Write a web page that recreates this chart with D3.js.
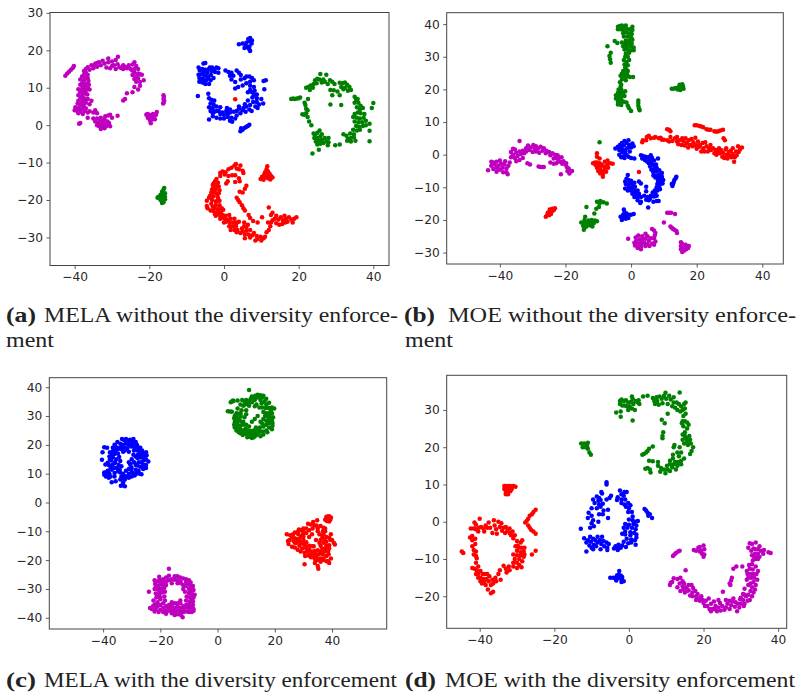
<!DOCTYPE html>
<html>
<head>
<meta charset="utf-8">
<script src="https://cdn.jsdelivr.net/npm/d3@7"></script>
<style>
  html, body { margin: 0; padding: 0; background: #fff; }
  .tick text { font-family: "DejaVu Sans", sans-serif; font-size: 12.2px; fill: #262626; }
  .caption { font-family: "Liberation Serif", serif; font-size: 20px; fill: #222; }
  .caption-tag { font-family: "Liberation Serif", serif; font-size: 20px; font-weight: bold; fill: #222; }
</style>
</head>
<body>
<svg id="chart" width="797" height="693"></svg>
<script>
// --- panel (a) MELA without diversity
const aMagenta = [[-42.5,13.2],[-42,13.8],[-41.5,14.3],[-41,14.8],[-40.5,15.3],[-40.2,15.8],[-37,15],[-36.5,15.5],[-36,14.8],[-35.5,16],[-35,15.2],[-34.5,16.4],[-34,15.6],[-33.5,16.8],[-33,16],[-32.5,17.2],[-32,16.5],[-31.5,15.4],[-31,16.8],[-31,17.8],[-30.5,15.2],[-30,17],[-29.5,16],[-29,17.4],[-29,15],[-28.5,16.3],[-28.4,18.3],[-28,15.5],[-27.5,15.3],[-27,15],[-26.5,15.6],[-26,15.2],[-25.5,16],[-25,15],[-24.5,16.2],[-24,16.8],[-24,15],[-23.5,15.8],[-23,15],[-24,14],[-24.5,13.4],[-23.5,13],[-23,13.8],[-22.5,13.6],[-22,13.5],[-23,12.5],[-22.5,11.5],[-21.5,12],[-23.5,11.6],[-24,12.3],[-22.5,10.5],[-24,10.2],[-23,9.5],[-24.5,8.8],[-26,8.5],[-26.5,7],[-27,6.6],[-37.5,14.5],[-37,14],[-36.5,13.5],[-37.5,13.5],[-38,13],[-36.5,12.5],[-37,12.8],[-38.5,12.2],[-37.5,12],[-36.3,11.8],[-38,11.2],[-37,11],[-36.2,10.8],[-38.5,10.8],[-37.5,10.2],[-36.5,10],[-38,9.5],[-39,9.6],[-37,9.3],[-36,9.5],[-38.5,8.8],[-37,8.4],[-39,8],[-38,7.8],[-37.5,7.2],[-38.5,7],[-36.5,7],[-39,6.5],[-38,6.2],[-35.5,6.5],[-37,6],[-39.2,5.8],[-38.5,5.4],[-37.6,5.2],[-36,5.6],[-39.8,4.8],[-39,4.5],[-38,4.4],[-37,4.5],[-40,4],[-39.3,3.8],[-38.4,3.6],[-37.3,3.8],[-36,3.7],[-35,3.4],[-39,3.2],[-37.8,3],[-36.5,3.4],[-34.5,4],[-34,3.2],[-36.5,2],[-35,1.8],[-38.5,0.6],[-38.8,0.4],[-34.5,1],[-34,1.8],[-33.8,0.6],[-33.5,-0.2],[-33.2,1.2],[-33,2],[-33,-1],[-32.8,0.2],[-32.5,1],[-32.4,-0.5],[-32,1.6],[-32,0.4],[-31.8,2.4],[-31.5,-0.2],[-31.2,1],[-31,2.6],[-30.8,0.6],[-30.5,2.8],[-30,2],[-30.5,-0.3],[-28.5,2.5],[-20.8,2.8],[-20.5,3],[-20.4,2],[-20,2.8],[-20,1.8],[-19.8,1.2],[-19.6,0.5],[-19.4,2.5],[-19.2,1.5],[-19,3],[-18.8,2.2],[-18.5,1.6],[-18.2,2.8],[-18,3.5],[-16.2,8],[-16.1,7.5],[-16.2,7],[-16,6.5],[-16.2,6],[-16.3,5.8],[-38,10.4],[-37.6,8.6],[-36.6,8.2],[-37.4,6.6],[-35,15.8],[-34,16.6],[-30,15.8],[-27,16],[-24.6,14.6],[-33,0],[-32,-0.8],[-34,0],[-31,0.2]];
const aBlue = [[6,22],[5,21.8],[4,21.6],[5.8,21.2],[6.5,23],[7,23.3],[6.8,22.5],[7.5,22.6],[7.4,21.8],[6.8,21],[6.2,20.8],[6.8,20.2],[7,19.8],[5.5,20.6],[-5.5,16.5],[-5,16.6],[-6.8,15.4],[-6.5,14.6],[-5.8,15],[-5,14.8],[-4.5,14],[-3.8,15.4],[-3.2,15.4],[-2.6,15],[-2,15.4],[-1.5,15.2],[-3.4,14.5],[-2.4,14.2],[-6.8,13.5],[-6,13.6],[-5.2,13.2],[-4.4,13],[-3.5,13.4],[-6.6,12.6],[-5.8,12.4],[-4.8,12],[-3.6,12],[-2.8,12.6],[-6.6,11.6],[-5.8,11.4],[-5,11],[-4,11],[-1.5,14],[0.4,14.6],[1.2,14.2],[1.6,13.2],[2,14],[2.5,13.2],[3.4,14.6],[4,14],[4.5,13.4],[2,12.2],[3,11.5],[4.5,12.2],[5.5,12.5],[6,13],[6.8,13],[7.5,12.6],[8,12],[7,11.6],[6,11.2],[5,10.6],[3.8,10.2],[3,9.8],[7,10.5],[8,10.2],[8.2,9.2],[7.5,8.8],[6.4,8.8],[8.8,8.2],[10.6,11.8],[11.2,12],[10.8,9.6],[-7,7.8],[-4.2,8.4],[-4,7.2],[-3.4,6.8],[-2.6,6.6],[-2.8,5.6],[-3.6,5.8],[-4,4.8],[-3,4.6],[-2,5],[-1,4.8],[0.8,4.6],[1.6,4.2],[-3.6,3.8],[-2.6,3.6],[-1.4,3.8],[-0.4,3.4],[0.6,3.8],[1.6,3.4],[2.6,3.6],[3.4,3.8],[-3,2.4],[-2,2],[-1,1.8],[0,1.8],[1,2.2],[2,2],[3,1.8],[-4,1.5],[1.6,1.2],[2.2,0.9],[3.4,2.6],[4.4,3.2],[5,4],[4,4.4],[5.2,4.6],[6,5],[6.8,4.2],[5.8,3.6],[7,5.4],[7.8,6.2],[8.4,5],[8.8,6.2],[9.4,5.5],[10,7],[8.8,7.2],[10.5,5.8],[7.4,3.8],[4.6,-0.8],[5,-1.2],[5.6,-0.7],[6,-0.4],[6.4,-0.2],[4.4,-1.6],[6.8,0.1],[7,9.4],[8,8],[7.6,7.4],[9,4.6],[6.4,6.6],[5.6,5.6],[4,5],[1,3],[0,2.8],[-1,3],[-2,3.8],[-3,3.2],[-5.6,14],[-4.4,14.8],[-5.4,12],[-4.2,12.6]];
const aGreen = [[18,7],[18.5,7.1],[19,7],[19.5,7.1],[20,7.2],[20.4,7.4],[21,2.9],[21.5,2.8],[22,3.2],[22.4,2.2],[22,4.4],[21.8,5.4],[21.6,6],[22.4,4],[22.5,7],[23,9.4],[22.8,1],[23.4,0],[22,10],[22.6,10.2],[23.2,10.6],[23.8,10],[24,11],[24.4,12],[24.8,11.2],[25,12.4],[25.6,12.2],[25.8,13.7],[26.2,11.4],[26.6,12.2],[27,11.6],[27.4,13.5],[27.8,11],[28.4,12],[29,11.6],[29.6,11],[31,11.3],[31.8,11.2],[32.4,11.4],[31.4,10.2],[32.4,10],[33,10.8],[33.6,10.2],[32,9.6],[33.2,9.2],[34,9.4],[28.5,9.4],[29.4,9.3],[30.4,9],[31,8],[29,8],[35,7.6],[35.4,6.8],[35.8,7],[35,6],[36,6],[36.6,5.2],[35.6,4.8],[36.4,4.2],[37.2,4.6],[35,3],[35.8,3.4],[36.6,3.2],[37.6,3],[34.6,2.2],[35.6,2],[36.4,1.8],[37.4,2],[35,1],[36,0.8],[37,0.8],[38,1.2],[39,0.4],[35.4,-0.2],[36.2,-0.4],[37.2,-0.2],[38,0],[34.6,-1.2],[35.6,-1.4],[36.4,-1.2],[39,-1.5],[33.8,-2.2],[34.8,-2.4],[32,-2.4],[32.8,-2.8],[33.2,-3.6],[34,-3.4],[34.8,-3.2],[35.2,-4.2],[33,-4.2],[34,-4.4],[39,-4.3],[40,5.9],[39.6,4.6],[28.5,5.5],[31.4,5.4],[24,-2.2],[24.4,-2.8],[25,-2],[25.6,-1.4],[24.2,-3.4],[25,-3.4],[25.8,-3],[26.2,-2.4],[24.6,-4.4],[25.4,-4.2],[26.2,-4],[25,-5.2],[25.8,-5],[26.6,-4.8],[27.4,-4.4],[27,-3.4],[28,-3.4],[28,-4.6],[27.8,-5.4],[25.4,-6.6],[23.7,-7.6],[29.8,-5.4],[31,-5.2],[-16.6,-17.8],[-16.2,-17.2],[-16,-16.8],[-17,-18.6],[-16.4,-18.6],[-15.8,-18.2],[-17.6,-19.2],[-17,-19.4],[-16.4,-19.4],[-15.8,-19.2],[-17.8,-19.4],[-17,-20],[-16.4,-20.2],[-15.8,-19.8],[-16.6,-20.8],[-16.2,-20.6]];
const aRed = [[3,6.9],[3.2,-10.4],[2.8,-10.8],[4.4,-10.8],[2,-11.4],[3.4,-11.6],[1.2,-11.8],[4,-11.8],[0.4,-12.6],[-0.4,-12.4],[-1,-12.8],[0.2,-13.2],[1.2,-13.6],[5,-12.2],[5.2,-12.8],[2.2,-13.4],[3,-13.4],[4,-14.2],[4.2,-15],[3,-15.2],[1,-15],[0.6,-15.6],[-2,-14.4],[-2.4,-15],[-1.6,-15.4],[-2.8,-15.6],[-2,-16],[-1.4,-16.4],[-2.8,-16.6],[-3.2,-17.2],[-2.2,-17],[-1.2,-17.4],[-3.4,-18],[-2.4,-18],[-1.4,-18.2],[-3.6,-18.8],[-2.8,-19],[-4,-19.4],[-1.6,-19.4],[-4.6,-20.2],[-3.2,-20],[-2.2,-20.4],[-1.2,-20.2],[-3.4,-21],[-2.2,-21.4],[-1.2,-21.4],[-4.6,-21.6],[-4.4,-22.2],[-2.6,-22.2],[-1.6,-22.4],[-0.6,-22.2],[-2.8,-23],[-1.8,-23.2],[-0.8,-23.2],[-2.4,-23.8],[-1.2,-24],[-0.4,-24],[0.4,-24.2],[-0.8,-24.8],[0.2,-25],[1,-25.2],[1.8,-25],[0.6,-25.8],[1.6,-26],[2.6,-26],[3.4,-26],[4,-25.8],[1.4,-27],[2.2,-27],[3.2,-27],[1.8,-28],[2.8,-28],[3.6,-28],[3.4,-28.6],[4.8,-27.6],[5.4,-27],[6,-27.2],[5,-28.4],[6,-28.2],[7,-28],[5.6,-29.2],[6.6,-29.2],[5.6,-30.2],[7,-30],[7.6,-29.4],[8,-28.8],[8.8,-29.6],[9,-30.4],[9.8,-29.8],[10,-30.8],[10.6,-30.2],[11,-29.8],[11.4,-28.6],[12,-28],[12.4,-27],[12.6,-26],[13,-25.4],[13.6,-25],[14,-26.2],[14.6,-25.2],[14.8,-26.6],[15.2,-24.6],[15.8,-25.4],[15.6,-26.4],[16.2,-24.2],[16.6,-25],[17,-25.8],[17.4,-24.6],[18,-25.2],[18.4,-26],[18.8,-25],[19.4,-24.6],[12.6,-24],[13,-23.4],[12,-22],[10.2,-24.6],[9,-26],[7.8,-25.6],[7,-24.8],[6.6,-24],[5.6,-22.8],[5.2,-22.2],[4.8,-21.4],[4.2,-20.6],[3.8,-20],[3.4,-19.4],[5,-18],[5.6,-17],[6,-16.2],[4.2,-17.8],[11.6,-11],[11.4,-11.8],[11.8,-12.4],[11,-12.6],[12.2,-13],[10.8,-13.2],[11.5,-13.4],[12.6,-13.6],[10.2,-13.8],[11,-14],[11.8,-14.2],[13,-14],[9.8,-14.4],[10.6,-14.6],[12.4,-14.5],[-3,-16],[-2.6,-17.8],[-1.8,-18.6],[-3.8,-19],[-2,-20.4],[-3,-21.8],[-3.6,-22.8],[-2.2,-24.2],[-1,-25],[0,-26],[-0.2,-22.6],[-1.6,-20],[1.4,-24],[2.8,-25],[3.2,-26.6],[4.4,-28.8],[6.4,-26.6],[5.4,-26],[8.4,-30.8],[11.8,-26],[14,-24.2],[16.4,-26],[-1,-13.6]];

// --- panel (b) MOE without diversity
const bGreen = [[-4,39.2],[-3.4,39.4],[-2.8,39.6],[-2.2,39.2],[-1.6,39.6],[0.4,39.2],[-4,38.4],[-3.2,38.4],[-2.4,38.2],[-1.4,38.6],[-0.4,38.4],[0.4,38.2],[-2.4,37.2],[-1.4,37.4],[-0.4,37.2],[0.2,37],[-2.2,36.2],[-1,36.2],[0,36],[-1.6,35],[-0.6,35],[0.4,35.2],[-5,34.8],[-4.2,34.2],[-2.8,34.4],[-1.8,34],[-0.8,34],[0.2,34],[-7.2,33.2],[-2.4,33.2],[-1.4,33],[-0.2,33.2],[0.8,32.8],[-2,32.2],[-1,32.2],[0,32],[0.8,32],[-6.2,31.2],[-1.6,31],[-0.6,31.2],[-6.6,30.2],[-1.8,30],[-1,30],[-0.6,29],[-6.4,29.2],[-6.2,28.2],[-2.2,29],[-1.4,28.4],[-2,27.6],[-1,27.4],[-1.8,26.6],[-1.4,26],[-2.4,25.6],[-1,25.6],[-2.8,24.8],[-2,25],[-1.2,24.6],[-3.2,24.2],[-2.4,24],[-1.6,23.8],[-0.4,23.8],[0.6,23.8],[-2.8,23],[-1.6,22.8],[-3.4,22.2],[-3,21.4],[-3.2,20.8],[-3.8,20],[-3,20],[-1.8,19.4],[-4,19],[-3.2,19],[-2.4,19],[-4.6,18.2],[-3.8,18],[-3,18],[-2,18],[-4.6,17.2],[-3.8,17],[-3,17],[-4,16.2],[-3.2,16.2],[-2.2,16.2],[-1.4,16],[-4,15.4],[-3,15.2],[-1,15],[-0.6,14.2],[0,13.4],[2.2,16.6],[2.2,15.8],[2.2,15],[2.4,14.2],[2.6,13.6],[12.4,20.2],[13,20.2],[13.6,20.4],[14.2,20],[14.6,20.8],[15.2,20.4],[15.8,21],[14.8,21.4],[15.6,21.6],[15,19.8],[16,20.2],[-9.6,3.8],[-7.4,-15],[-8.4,-14.6],[-9.4,-14.2],[-10.4,-14.4],[-9.6,-15],[-9.8,-16],[-10.6,-16.6],[-13.6,-16],[-11.2,-18],[-14,-19],[-14.2,-20],[-13,-20.2],[-12,-20],[-11,-20.2],[-10.4,-20.4],[-15.2,-20.8],[-14.4,-21],[-13.4,-21],[-12.4,-21],[-11.4,-21],[-14.6,-21.8],[-13.6,-22],[-12.6,-21.6],[-14.2,-22.4],[-14.4,-23],[-11.8,-22]];
const bRed = [[3.4,3.8],[3.6,4.4],[4.6,4.4],[4.8,5.4],[5.4,5.8],[6,5],[7,5.2],[7.4,5.4],[8.4,5],[9,5.2],[9.4,4.6],[10,4.6],[11,4.4],[11.6,4],[12,5.4],[12.6,4.2],[13.4,5],[14,5.4],[14,4],[14.4,3.2],[14.8,4.4],[15.4,3],[15.6,5],[16,4],[16.4,2.8],[16.6,5],[17,3.6],[17.4,2.2],[17.6,4.4],[18,3],[18.4,4.8],[18.8,2.6],[19,3.8],[19.6,5.2],[19.8,3],[20,1.8],[20.4,4],[20.8,2.4],[21,3],[21.4,1],[21.8,3.6],[22,2],[22.4,1],[22.6,3.8],[23,2.6],[23.4,1],[23.8,2],[24.2,3],[24.4,1.4],[25,2],[25.4,0.4],[25.8,1.4],[26,0],[26.4,1],[26.8,2],[27,0.4],[27.4,1.4],[27.8,-0.6],[28,0.6],[28.4,-1],[28.8,1.6],[29,0],[29.4,-1.2],[29.8,0.8],[30,-0.4],[30.4,1.2],[30.6,-0.8],[31,0.2],[31.4,-2.2],[31.6,-0.8],[32,1],[32.2,-0.2],[32.6,2.6],[32.8,0.8],[33.2,1.6],[33.8,2.2],[31,2],[29,2],[11,7.8],[11.6,7.6],[12,7.2],[19.4,9],[20,9],[20.8,8.8],[21.4,8.6],[22,8.4],[23,7.8],[23.6,7.6],[24.2,7.6],[25.4,7.2],[26,7],[26.6,7.2],[27.2,7.4],[28,7.6],[28.2,5],[28.6,4.4],[-10.4,0.4],[-10.4,-0.6],[-11,-2.4],[-11.6,-2.6],[-10.4,-2.4],[-9.6,-1.2],[-9.6,-2.6],[-10.8,-3.2],[-10,-3.4],[-9,-3],[-8,-2.2],[-7.2,-1.8],[-6.4,-2.6],[-5.6,-2.8],[-7.2,-3],[-8.2,-3.6],[-9.4,-4],[-10.4,-4],[-8,-4.4],[-7,-4],[-9.2,-5],[-8.2,-5],[-10,-5],[-7.6,-5.2],[-9.4,-5.8],[-8.6,-6],[-8.6,-6.8],[-26,-19],[-25.6,-18.6],[-25,-18.6],[-24.4,-18.2],[-25.4,-17.8],[-24.8,-17.6],[-24.2,-17.4],[-23.6,-17],[-24.8,-16.8],[-24,-16.6],[-23.2,-16.4],[-25.2,-18],[2.4,-5.3]];
const bBlue = [[-4.8,1.9],[-4,2.4],[-3.6,1.4],[-3.4,3],[-3,2.2],[-2.8,0.8],[-2.8,3.6],[-2.4,1.4],[-2.2,2.8],[-2,-0.2],[-2,4.2],[-1.8,1],[-1.4,3.6],[-1.4,0],[-1.2,2],[-0.8,-0.6],[-0.8,4.4],[-0.6,3],[-0.4,1],[0,-1],[0,2.2],[0.4,3.4],[0.8,2.6],[1,-1.2],[-3.6,0],[-3,-0.8],[-2.4,-0.6],[-2,-1],[3,-0.2],[3.6,-0.4],[4.4,-0.6],[3.4,-1.2],[4.2,-1.6],[5.2,-0.8],[6,-0.2],[4.8,-2],[5.6,-1.8],[6.4,-1],[5.4,-2.6],[6.2,-2.4],[7,-1.8],[8.2,-1.2],[5.8,-3.6],[6.8,-3.2],[7.6,-3],[6.2,-4.6],[7,-4.4],[7.8,-4],[6.8,-5.4],[7.6,-5],[8.6,-4.8],[6.8,-6.4],[7.6,-6.4],[8.4,-6],[9.4,-5.6],[7.4,-7],[8.4,-7],[9.4,-6.8],[8.2,-8],[9,-7.8],[9.8,-7.8],[8,-9],[8.8,-9],[9.6,-8.8],[7.8,-10],[8.6,-10],[7.2,-11],[8,-11],[8.8,-10.6],[6.6,-11.6],[7.4,-12],[6,-12.6],[7,-12.8],[7.8,-12.6],[5,-13],[5.8,-13.4],[4.6,-13.8],[5.4,-14],[6.8,-14.4],[7.8,-14.2],[8.4,-14.2],[5.2,-16.2],[-1,-6.2],[-1.4,-7.4],[-1.8,-8.2],[-0.8,-7.8],[0,-8],[-1.6,-9],[-0.6,-9],[0.4,-9],[1,-8.6],[-0.8,-10],[0.2,-10.2],[1.2,-9.8],[2.4,-8.2],[3,-8.8],[4.6,-9.8],[-1.8,-10.4],[-1,-11],[0,-11],[1,-11],[2,-11],[0.4,-12],[1.4,-12],[2.4,-12],[4.6,-11.2],[1,-13],[2,-13],[3,-13],[4,-12.6],[2,-14],[3,-14.4],[2.8,-14.8],[12.6,-9.6],[12.8,-9],[13,-8.4],[13.2,-7.8],[13.6,-7.2],[13.8,-6.8],[12.4,-9],[-2.2,-16.8],[-2,-17.6],[-1.4,-18],[-2.4,-18.4],[-1.6,-18.8],[-0.8,-18.4],[0,-18.4],[0.8,-18.2],[-3.2,-19],[-2.4,-19.2],[-1.6,-19.6],[-0.8,-19.4],[-2.8,-20]];
const bMagenta = [[-43.6,-4.8],[-42.6,-2.2],[-42.6,-3.4],[-42,-4.4],[-42,-2.4],[-41.6,-3],[-41,-4],[-41,-5.2],[-41,-2.2],[-40.4,-3.4],[-40,-4.6],[-40,-1.8],[-39.6,-2.8],[-39.2,-4],[-39,-5.4],[-38.6,-3],[-38.4,-2],[-38,-4.2],[-38,-5.4],[-37.6,-6],[-37.4,-3.4],[-37,-2.4],[-36.6,-0.8],[-36.6,0.8],[-36,1.8],[-36,0],[-35.4,1.6],[-35.4,-1],[-35,0.6],[-35,-2],[-34.6,-0.4],[-34,1],[-34,-1.6],[-33.6,0.2],[-33,1.2],[-33,-1],[-32.6,0.4],[-32,2],[-32,1],[-31.6,-2.6],[-31.4,2.8],[-31,1.4],[-30.6,2.2],[-30,0.8],[-29.8,3],[-29.4,2],[-29,1],[-29,2.6],[-28.4,1.8],[-28,0.6],[-27.6,2.4],[-27,1.2],[-26.6,2],[-26,0.4],[-25.8,1.2],[-25,0.8],[-24.6,-0.2],[-24,0.4],[-23.6,-1.2],[-23.2,0],[-22.8,-1],[-22.4,-0.2],[-22.2,-2],[-22,-1],[-21.6,-2.2],[-21.2,-0.8],[-21,-2.8],[-20.6,-2],[-20,-3],[-19.8,-2.6],[-19.6,-3.8],[-19,-4.2],[-18.6,-5.2],[-18,-5],[-19.4,-5],[-18.8,-5.8],[-21.4,-6],[-24.6,-2.4],[-23.6,-2.8],[-22.8,-2.6],[-30.8,-3],[-28.2,-3.6],[-27.6,-3.8],[-27,-3.8],[-26.6,-3.8],[-34,4.2],[-0.9,-25.8],[1.4,-25.4],[2.2,-24.8],[3.4,-25],[4.4,-24.2],[5,-25],[6.4,-22.8],[7,-23.2],[7.4,-24],[7.2,-24.8],[6,-25.6],[7,-25.6],[7.4,-26.6],[5.4,-26.4],[4.4,-25.8],[3.4,-26],[2.6,-26],[1.6,-26.4],[1,-27],[2,-27.2],[3,-27],[4,-27],[5,-27.4],[6.4,-27.2],[1.2,-27.8],[2.2,-28],[3.2,-28],[4.4,-28],[5.6,-28],[7,-27.6],[2,-28.6],[3,-29],[11,-17.8],[11.6,-17.8],[12.2,-17.8],[13.4,-18.2],[10,-20.8],[12,-22],[12.4,-22.4],[12.8,-22.8],[13.2,-23],[13.8,-23.4],[14,-24],[15.2,-26.8],[15.6,-27.4],[15.2,-28],[16,-27.8],[16.6,-27.6],[17.6,-28],[17.4,-28.6],[16.4,-28.6],[15.6,-28.8],[15.2,-29],[16.2,-29.4],[15.6,-29.8],[16.8,-29],[16.6,-28.2]];

// --- panel (c) MELA with diversity
const cBlue = [[-40.2,17.4],[-40.4,14.8],[-39.6,19.2],[-38.6,19],[-36.6,19],[-36,20],[-35.6,18],[-35,21],[-35.2,19],[-34.8,17],[-34.4,15.8],[-34,20.4],[-33.8,18.6],[-33.4,22],[-33.2,20],[-33,17.6],[-32.6,21.6],[-32.6,19],[-32,22],[-32,20.4],[-31.6,18.8],[-31.2,21.4],[-31,20],[-30.6,21.8],[-30.2,19.4],[-30,21],[-29.6,20],[-29.4,22],[-29,19],[-28.6,21],[-28.2,20],[-28,18],[-27.6,19],[-27,19],[-27,17],[-26.4,18],[-26,17],[-25.8,16],[-25,17.4],[-24.8,16.4],[-25,15],[-24.2,14.2],[-25.8,14.6],[-26,13],[-25,13],[-25,12],[-26,11.6],[-27,12.4],[-27.6,14],[-28,15.4],[-27.2,10],[-26.6,9.8],[-28,10.4],[-28.6,11.4],[-29,9.4],[-29.6,10.2],[-30,12],[-30,9],[-30.6,13.4],[-31,11.6],[-31,10],[-31.8,9],[-32,11],[-32.4,8],[-33,10],[-33,7],[-33.6,9],[-33.2,6],[-32.4,5.6],[-33.8,5.8],[-34,10.4],[-34.8,10.8],[-36,9],[-35.6,7.4],[-37,7],[-37.4,9],[-38,8.6],[-39,9],[-39.6,9.6],[-39.2,10],[-38.6,9.4],[-38.2,10.2],[-39,10.4],[-38.4,11],[-39.6,10.4],[-38,13],[-39.2,13.2],[-37.4,12],[-36.8,13],[-37.2,14.6],[-36.6,15.6],[-35.8,14],[-36,12],[-37,16.4],[-36,16.8],[-37.6,17.4],[-31,14],[-30,15],[-30.4,13],[-29.2,14],[-28,12.8],[-28.6,16],[-29.4,16.6],[-31,17.6],[-27,15.6],[-37.6,15],[-38.4,13.8],[-37.8,16],[-36.4,18],[-36.2,17],[-35,18.6],[-35.4,15],[-34.6,13],[-35,12],[-33.6,12.6],[-34.2,11.4],[-33,19],[-34,19],[-31.6,20.8],[-30,19.6],[-29,20.6],[-28,19.4],[-27.4,18],[-26.2,16],[-25.6,15.4],[-26.6,14],[-26.2,12.4],[-27.6,11],[-28.6,9.8],[-30,10.6],[-31,8.6],[-32.6,9.2],[-34,8],[-33,8.4],[-36,10.2],[-37.8,10],[-37,11.4],[-36,13.6],[-34,14.4],[-35.8,19.6],[-32.4,18],[-29.2,18],[-27.8,16.6],[-26.6,15.8],[-28.6,13]];
const cGreen = [[11,39],[3.6,31.7],[4.4,31.6],[5,31.5],[5,35],[4.6,34.8],[5.4,35.4],[7,35.4],[8.6,35.6],[9.4,35],[8,34],[9,33.6],[7,32.6],[8.4,32],[7,30.8],[6.4,29.8],[5.8,29.2],[7,29],[8,29.8],[9.4,29.6],[10,30.6],[10,32],[11,33.6],[11,35.2],[11.6,36],[12,34.8],[12.4,36.6],[13,35.6],[13.2,37],[13.6,34],[14,36.4],[14.6,37],[15,35.6],[15.4,34.4],[15.6,36.4],[16,37],[16.4,35],[17,36],[17,34],[17.4,33],[18,34.6],[18.6,32],[19,33],[19.8,32.6],[18,31],[17,31],[16,31.4],[19.4,29.6],[19,28.6],[18.2,30],[16,29],[17,28.4],[18,27.6],[19.2,27.6],[19.2,26.6],[18,26],[19,25.4],[17,25],[16,26.4],[15,28],[17.4,24.4],[15.8,24.6],[14.8,26],[14.4,24.2],[14,25],[13.6,23.4],[13,24.4],[12.6,22.6],[12,23.6],[11.4,22.8],[11,24],[10.4,22.6],[10,23.8],[9.4,24],[9,25],[8,24],[7.8,25.6],[7.4,24.4],[6.6,25],[6,26],[5.8,27],[7,27],[8,26.6],[9,27],[9,28],[10,27],[11,26.4],[12,28],[13,29],[14,30],[16,23.6],[15,23],[6,30],[6.6,31],[8,31],[5.6,35.2],[13,23],[7,28],[6.6,26],[7.6,28.6],[8.6,25],[9.8,25.6],[10.6,25],[11.6,24.8],[12.6,25],[13.4,26],[14.6,24.8],[15.6,27.4],[17,27],[18,29],[17.6,29.8],[18.2,32.8],[16.8,32.8],[15.6,33],[14.6,33],[13,33.4],[12,36.8],[10.6,34.4],[9.6,34],[8,30.4],[8.4,28],[10.4,25],[16.6,30],[19,31],[12,22.4],[13.8,24.4],[6,28],[8.8,23.4],[10,35.6],[15,37.2],[14,37.4]];
const cRed = [[24.2,-11],[25.4,-11.4],[24.6,-13.4],[24.8,-14.4],[25.2,-13],[26,-15.4],[26,-12],[26.4,-11],[27,-10.4],[27,-12.4],[27.6,-14],[28,-10.2],[28,-12.8],[28.4,-9.4],[28.6,-15],[29,-12],[29,-9.6],[29,-14],[29.6,-16],[29.8,-11],[30,-9],[30,-13],[30.4,-17.4],[30.6,-15],[30.4,-21.4],[31,-10.6],[31,-13.8],[31.4,-17],[31.6,-7.4],[32,-12],[32,-9.6],[32,-15],[32.4,-18],[32.6,-7.6],[33,-11],[33.2,-9],[33,-17],[33.6,-19],[33.8,-8],[33.6,-15.2],[34,-19.6],[34.4,-18],[34.8,-6.2],[35,-9],[34.8,-20],[35,-22],[35.2,-23],[35.4,-18],[35.6,-11],[36,-8.2],[36,-13],[36,-15],[36,-19.4],[36.6,-12],[36.6,-16],[36.8,-18],[37,-8.8],[37,-14],[37.4,-13],[37.4,-17],[37.6,-10],[38,-15],[38,-18.6],[38,-20.4],[38.6,-17],[38.6,-20.4],[39,-12.2],[39,-14.8],[39,-16],[39.6,-11],[39.6,-19.4],[39,-21],[40,-13],[40.6,-14],[41,-14.6],[38,-5],[38.4,-4.9],[39,-4.8],[39.6,-5.2],[38,-5.8],[38.6,-5.8],[39.4,-6],[38.2,-6.4],[39,-6.6],[37.6,-6],[35.6,-14],[34.4,-13],[33,-15.2],[27,-15.6],[28,-16.4],[35,-16.6],[36,-20.6],[34,-21],[29,-17],[26.6,-13.4],[28.2,-11],[30,-11.8],[31,-9],[30,-10.2],[27,-14],[28.6,-13.4],[30,-14.4],[31,-16],[32,-16.4],[32.6,-19],[33.4,-17.8],[34.6,-19],[36,-17],[37,-19.4],[36.8,-20],[37.6,-16],[38.8,-18],[37,-11],[38,-12],[38,-13.6],[36.8,-10],[34.6,-8],[35,-10],[33.4,-6.8],[35.2,-20],[34,-16.8],[37.6,-9],[39.4,-13],[31.8,-18.4],[30.6,-18.6]];
const cMagenta = [[-17,-23],[-24,-31],[-22,-27],[-21,-27.4],[-20,-27],[-20.4,-25.8],[-19,-26.6],[-18,-27.4],[-17,-25.4],[-17,-27],[-16,-26.6],[-15,-26.8],[-14,-25.6],[-13,-26],[-13,-27.4],[-12,-26.4],[-11,-27.6],[-10,-27],[-10,-28.4],[-9.4,-29],[-9,-30],[-10,-30],[-11,-29],[-8.4,-30.4],[-9,-31],[-10,-31.4],[-10.8,-32.6],[-9,-32.4],[-9,-33.6],[-8.6,-34.4],[-9.6,-34.4],[-11,-34],[-10,-35.2],[-8.6,-35.6],[-11,-35.6],[-9.4,-36.4],[-8.4,-37],[-10,-37],[-11.2,-36.4],[-8.4,-37.6],[-12,-37],[-13,-35],[-13,-36.6],[-13,-38],[-14,-36],[-14,-37.4],[-14,-38.8],[-15,-35],[-15,-36.6],[-15,-38],[-16,-34.6],[-16,-36],[-16,-37.4],[-12.2,-39.8],[-12.8,-39],[-17,-35.6],[-17,-37.6],[-18,-36],[-18,-37.4],[-19,-35],[-19,-36.6],[-19,-38],[-20,-33.6],[-20,-35.6],[-20,-37.2],[-21,-34.6],[-21,-36],[-21.6,-37],[-22,-35.4],[-22.6,-36],[-23,-37],[-23.6,-36.6],[-22.4,-34],[-21.4,-33],[-20.4,-32],[-21.6,-31.6],[-21,-30],[-19.6,-30],[-21,-29],[-19,-28.6],[-20,-28.4],[-18.6,-29.6],[-19.4,-31.2],[-21.8,-28.2],[-20.4,-27],[-18,-28.6],[-18.4,-31],[-18.6,-32.6],[-18.4,-34],[-16,-28],[-14,-28],[-12,-28.6],[-12,-30],[-11.4,-31],[-21.6,-29],[-20.6,-29.4],[-20.4,-30.8],[-21,-32],[-20,-33],[-22,-30],[-19,-27.6],[-18,-26],[-15,-25.6],[-14,-27],[-12.8,-28],[-11,-26.6],[-9.4,-27.8],[-8.6,-29],[-8,-32],[-8.4,-33],[-9.8,-33],[-11,-37.8],[-10,-38],[-9,-38],[-16,-38.4],[-18,-38.6],[-17,-36.6],[-15,-39],[-13,-34],[-14,-35],[-16,-35.2],[-20.6,-38],[-22,-37.8],[-12,-36],[-12,-38],[-10,-36],[-19,-29.4],[-20,-31]];

// --- panel (d) MOE with diversity
const dGreen = [[-3.4,29.3],[-2.2,29.6],[-2.2,28.2],[-0.2,30],[-2.4,32.4],[-2.4,31.6],[-2,32.8],[-1.8,31.2],[-1.4,32.4],[-1.2,31.2],[-0.8,32.6],[-0.6,31],[-0.2,32],[0.2,31],[0.6,32.2],[0.8,30.4],[0.8,33.6],[1,33],[1.2,31.6],[1.6,30],[1.8,32.4],[2.4,32],[2.6,32.6],[2.8,31.6],[1,27.2],[3.8,33.6],[5,33.8],[6.4,33.2],[6.8,32.4],[7,31.6],[7.4,33.4],[7.6,32.4],[8,31.4],[8.2,33.6],[8.8,33],[9,31.8],[9.4,33.8],[9.8,34.6],[10,33],[10.4,31.6],[10.8,33.8],[11.2,32.8],[11.6,31],[12,32],[12,33.4],[12.4,30.6],[12.8,32],[13,30],[13.4,31.6],[13.6,34.7],[13.8,29.6],[14,31],[14.4,30],[14.8,31.6],[15,30.4],[15.2,32],[15.2,29],[14.6,28.4],[14.4,27],[14.2,26.4],[14.6,25.6],[15,27],[15.6,26.6],[16,26],[15.6,25],[15,24],[15,23],[14.4,23.4],[15.4,22.4],[14.4,22],[15.6,21.6],[16.2,23],[16.4,22],[14.8,21],[15.8,20.6],[16.6,21],[17.2,20],[16.8,19],[16.4,18.2],[13.6,20],[12.2,20.6],[12,20],[13,18.6],[14,18.6],[11.8,18],[13.4,17.6],[14.8,17],[14,16.4],[13.2,16],[12.4,16],[11.8,17],[11,16.4],[14,15.4],[13,15],[12,15.4],[11,15.4],[10.2,15],[9.4,14],[10.4,14],[11.6,14.6],[12.6,14],[11,13.6],[9.8,13],[8.4,13.4],[8.6,14.4],[7.8,15],[7.8,16],[6.4,16.2],[5.4,16.4],[5,14.4],[4.4,14.2],[5.6,14],[5.8,13.2],[3.6,18],[4,18.2],[4.6,18.6],[5,19],[5.4,19.6],[6.4,20.2],[9,22.4],[9,23],[9.2,24],[9.6,26.4],[8.8,27.4],[10.4,29],[-12.8,21],[-12.4,20],[-12,21],[-11.6,20],[-11,19.6],[-11,21.2],[-11.2,20.4],[-10.6,18.6],[-10.2,18]];
const dBlue = [[-6,10],[-6,10.6],[-7.2,7.6],[-7.4,8],[-8,6.4],[-8.6,6.8],[-9.6,6],[-9.2,5],[-8.2,5.6],[-8,4.6],[-7.6,5.8],[-7,4.8],[-6,6],[-5.2,6.4],[-4.8,7],[-7.6,4],[-6.8,3],[-5.6,3.2],[-8.6,3.6],[-10,3.6],[-10.8,2.4],[-10,1.6],[-11,1],[-8,2],[-7,2],[-9.6,0.4],[-10,-0.4],[-10.4,-1.6],[-9.4,-1.2],[-8.2,0],[-5.6,1],[-12.9,-1.9],[-2.4,8.4],[-1.4,7],[-2,7.4],[-1.2,8],[-0.6,8],[-3,6.6],[-3.2,5.8],[-2,6],[-1,6],[-0.2,5],[-2,5],[-1.2,4.6],[-0.8,4],[0,3.6],[0.4,4.4],[-0.2,2.6],[0.8,2.6],[1,1.4],[0,0.6],[1,0.4],[1.8,0],[2.4,0.2],[-1,-0.6],[0,-0.8],[1.2,-0.6],[2,-1],[-1.4,-1.6],[-0.4,-1.6],[0.8,-1.6],[1.8,-2],[-1,-2.6],[0.4,-2.8],[1.4,-3],[2,-3.4],[-1.8,-3.2],[-1,-3.4],[0.4,-3.6],[2,-4.2],[-0.6,-4.6],[0.6,-4.8],[1.6,-5],[-1.4,-5.4],[-0.2,-5.8],[0.6,-5.6],[-1.8,-6.4],[-0.8,-6.8],[1.8,-6.2],[-2.8,-6.2],[-3.6,-6.6],[-2.8,-7.2],[-3,-7.6],[-4,-7.2],[-2.2,-7],[-12,-4.4],[-11.4,-5.6],[-11,-5],[-10.4,-4],[-10.2,-5.4],[-9.6,-4.6],[-9.4,-6.2],[-9,-5],[-8.4,-4],[-8.4,-5.6],[-8.8,-6.6],[-7.8,-5],[-7.4,-6],[-7.2,-4],[-6.8,-5.2],[-6.6,-6.6],[-6,-5.6],[-5.4,-6],[-5.8,-7],[-10.6,-6.4],[-11.4,-8],[-10,-7],[-9.6,-7.4],[-7.6,-7.4],[-5.8,-7.6],[4.2,3.4],[4.6,3],[5,2.4],[5.6,2],[5.2,1.6],[6.2,1],[-5,-15],[-4.2,-15],[-3.6,-15.2],[-3.2,-14.4],[-2.6,-13.2],[-2.8,-14.2],[-2.2,-14.4],[-1.8,-14.8],[-3.4,-15.8],[-2.6,-15.2],[-1.8,-15.6],[-1.4,-16],[-2,-16.2]];
const dRed = [[-44.8,-8],[-44.4,-8.4],[-42,-3.8],[-42.6,-4.2],[-42,-5],[-41.2,-4.6],[-42.4,-1.8],[-41.6,-1.8],[-41.4,-0.2],[-41,-2],[-41,-0.8],[-40.2,-1.6],[-40.4,-2.6],[-40,0.8],[-39.6,-1.4],[-39,-1.8],[-38.8,-2.6],[-38.4,-1],[-38,-1.6],[-37.6,-0.2],[-37.2,-1.6],[-36.6,-3],[-36.2,0.4],[-36,-1],[-35.6,-2],[-35.4,-3.2],[-35,0],[-34.6,-1.4],[-34.2,-0.4],[-34,-2.4],[-33.6,-1.6],[-33.2,-3],[-33,-1.4],[-32.6,-2.4],[-32,-3],[-32,-1.8],[-31.6,-3.6],[-31.2,-2.6],[-31,-4.4],[-30.6,-3.6],[-30,-5.2],[-29.8,-6.4],[-29,-5.6],[-28.6,-5],[-30.4,-6.6],[-29.6,-7],[-28.8,-7],[-28,-7],[-30,-7.8],[-29,-8.2],[-28.2,-8],[-31,-8.8],[-30,-9],[-29,-9],[-28,-8.8],[-30.6,-10],[-29.4,-10],[-28.2,-9.4],[-31,-11],[-30,-11],[-28.6,-10.6],[-29.4,-11.6],[-31,-12],[-30,-12.4],[-28.8,-12.2],[-32.2,-12],[-33,-12.6],[-32,-13],[-33.6,-11.8],[-32.8,-13.6],[-26,-8.8],[-25,-7.8],[-42,-6.6],[-41.2,-6],[-41.6,-7.6],[-41,-8],[-41.6,-8.8],[-41,-9.2],[-40.8,-9.8],[-41,-11],[-42,-12.4],[-41.4,-12.6],[-40.8,-13],[-40.4,-12],[-41,-14],[-40.4,-14],[-39.8,-13.2],[-40.4,-15],[-39.8,-15],[-39.2,-14],[-39.8,-16],[-39,-15.4],[-38.6,-14],[-39.4,-16.6],[-38.8,-16.4],[-38.2,-15.4],[-38,-14],[-38.4,-17],[-37.6,-16],[-37.4,-14.6],[-37,-17],[-36.6,-15.6],[-36.4,-16.6],[-35.8,-15],[-35.6,-16],[-35,-14],[-34.4,-15.6],[-34.6,-13],[-37.8,-18.2],[-36.4,-18.8],[-37,-19.2],[-33.4,9.6],[-33,9.6],[-32.4,9.6],[-31.8,9.6],[-31,9.6],[-30.4,9.4],[-33.4,8.8],[-32.8,8.8],[-32.2,8.8],[-31.4,8.8],[-33,8],[-32.4,8],[-31.8,8.2],[-33,7.4],[-32.4,7.4],[-25,3.2],[-25.6,2.6],[-26,2],[-26.6,1.6],[-27,0.8],[-27.4,0.2],[-27.8,-0.2],[-27,-1],[-26.6,-1.6],[-26.2,-2.2],[-25.6,-2.6],[-25,-3.2]];
const dMagenta = [[11,-17],[11.2,-16.4],[11.6,-16.2],[12,-15.2],[13,-15.4],[13.8,-15],[15.2,-13],[14.4,-16],[13.6,-16.6],[13,-17.6],[13.8,-18.6],[14.4,-17.4],[14.6,-18.2],[15,-19],[15.4,-17.6],[16,-17],[16,-18.4],[16.4,-19.8],[17,-19],[17.2,-17.8],[17.8,-18.6],[18,-20],[18.4,-19.4],[18.8,-20.6],[19,-21.2],[19.4,-20],[19.8,-21],[20,-21.8],[20.6,-21.2],[21,-22.6],[21.4,-20.6],[21.6,-23.4],[22,-22],[22.4,-23.4],[22.8,-21.4],[23.2,-22.6],[23.6,-24],[24,-23],[24.4,-21.8],[24.6,-23.8],[25,-22.6],[25.6,-23.6],[26,-23],[26.4,-22],[27,-23.4],[27.4,-22.4],[27.8,-21.4],[28.4,-22.8],[28.6,-21.6],[29,-24],[29.2,-22],[29.8,-20.8],[30,-22],[30.6,-21],[31,-22],[31.4,-20],[31.8,-21.2],[32,-19.6],[32.4,-21],[32.6,-18.6],[33,-20],[33.4,-19],[33.8,-18.2],[34,-17],[32.6,-16.6],[33.4,-16.2],[32.8,-15],[33.6,-15],[34.4,-15.6],[31.8,-14],[32.6,-14],[33.4,-14],[34.2,-14],[31.6,-13.2],[32.4,-12.6],[33.2,-12.8],[34,-12],[32.2,-11.6],[33,-11.4],[33.2,-10.4],[33.6,-9.6],[34.6,-10],[33,-9],[33.8,-8.6],[34.6,-8.6],[32,-7],[32.8,-7.8],[33.4,-7.2],[34,-7.4],[34.6,-7.4],[35.4,-7.8],[36.2,-7.6],[37.4,-8.2],[38,-8.4],[32.4,-5.8],[33,-6],[34,-5.6],[25.2,-18.8],[28,-12.6],[28.8,-12],[30.4,-12],[27,-16.6],[27.4,-15.8],[27.6,-15],[27.2,-17],[11.8,-9.2],[12.2,-8.8],[12.6,-8.4],[13.2,-8],[13.6,-7.8],[17.4,-7.6],[18,-7.8],[18.6,-7],[19,-6.8],[19.4,-7.8],[20,-6.4],[20.2,-7.4],[19,-8],[19.6,-8.6],[20.2,-8.8],[20,-9.4],[30,-20.4],[30.6,-19.4],[31,-18],[32,-17],[31.6,-15.6],[32,-15],[34.6,-13.2],[33,-17.6],[28,-20.6],[27,-21.2],[26,-21],[24,-21],[23,-23.4],[22,-24],[20.4,-22.6],[18,-21],[17,-20],[15.6,-18.6],[14.8,-16.6],[16.8,-17],[31,-19.6],[29.6,-23],[30.8,-22.6],[34,-10],[35,-6.6],[36,-8.6],[34.2,-9],[35,-9.4]];

const tickX = [-40, -20, 0, 20, 40];
const ticksA = [-30, -20, -10, 0, 10, 20, 30];
const ticksB = [-30, -20, -10, 0, 10, 20, 30, 40];
const ticksC = [-40, -30, -20, -10, 0, 10, 20, 30, 40];
const ticksD = [-20, -10, 0, 10, 20, 30];

const colors = { r: "#ff0000", g: "#008000", b: "#0000ff", m: "#bf00bf" };

const panels = [
  { box: [50, 12.5, 389, 265.5], xDom: [-46.6, 44.2], yDom: [30.1, -37.5], yTicks: ticksA,
    series: [[aRed, colors.r], [aGreen, colors.g], [aBlue, colors.b], [aMagenta, colors.m]] },
  { box: [446.7, 12.7, 783.3, 264], xDom: [-56.2, 46.4], yDom: [43.5, -33.5], yTicks: ticksB,
    series: [[bRed, colors.r], [bGreen, colors.g], [bBlue, colors.b], [bMagenta, colors.m]] },
  { box: [49.3, 377.7, 386.7, 629], xDom: [-58.8, 59.1], yDom: [43.3, -43.9], yTicks: ticksC,
    series: [[cRed, colors.r], [cGreen, colors.g], [cBlue, colors.b], [cMagenta, colors.m]] },
  { box: [446.7, 375.3, 786.7, 628.3], xDom: [-48.85, 42.3], yDom: [39.3, -28.6], yTicks: ticksD,
    series: [[dRed, colors.r], [dGreen, colors.g], [dBlue, colors.b], [dMagenta, colors.m]] }
];

const svg = d3.select("#chart");

panels.forEach(p => {
  const [x0, y0, x1, y1] = p.box;
  const x = d3.scaleLinear().domain(p.xDom).range([x0, x1]);
  const y = d3.scaleLinear().domain(p.yDom).range([y0, y1]);
  const g = svg.append("g");

  p.series.forEach(([pts, color]) => {
    g.append("g").selectAll("circle")
      .data(pts)
      .enter().append("circle")
      .attr("cx", d => x(d[0]))
      .attr("cy", d => y(d[1]))
      .attr("r", 2.25)
      .attr("fill", color);
  });

  const xAxis = g.append("g")
    .attr("transform", `translate(0,${y1})`)
    .call(d3.axisBottom(x).tickValues(tickX).tickSizeOuter(0).tickSize(3.5).tickPadding(3.5));
  const yAxis = g.append("g")
    .attr("transform", `translate(${x0},0)`)
    .call(d3.axisLeft(y).tickValues(p.yTicks).tickSizeOuter(0).tickSize(3.5).tickPadding(3.5));
  xAxis.select(".domain").remove();
  yAxis.select(".domain").remove();
  g.selectAll(".tick line").attr("stroke", "#333").attr("stroke-width", 0.8);

  // spines
  g.append("rect")
    .attr("x", x0).attr("y", y0)
    .attr("width", x1 - x0).attr("height", y1 - y0)
    .attr("fill", "none")
    .attr("stroke", "#444")
    .attr("stroke-width", 1);
});

// captions: [tag, tagX, tagEnd, text, textX, textEnd, baseline]
const captions = [
  ["(a)", 6, 36, "MELA without the diversity enforce-", 44, 398, 322],
  ["(b)", 404, 435, "MOE without the diversity enforce-", 448, 796, 322],
  ["(c)", 6, 36, "MELA with the diversity enforcement", 44, 397, 687],
  ["(d)", 405, 436, "MOE with the diversity enforcement", 445, 795, 687]
];
const captionTails = [["ment", 6, 54, 347], ["ment", 405, 453, 347]];

captions.forEach(([tag, tx, te, text, sx, ex, by]) => {
  svg.append("text").attr("class", "caption-tag")
    .attr("x", tx).attr("y", by)
    .attr("textLength", te - tx)
    .attr("lengthAdjust", "spacingAndGlyphs")
    .text(tag);
  svg.append("text").attr("class", "caption")
    .attr("x", sx).attr("y", by)
    .attr("textLength", ex - sx)
    .attr("lengthAdjust", "spacingAndGlyphs")
    .text(text);
});
captionTails.forEach(([text, sx, ex, by]) => {
  svg.append("text").attr("class", "caption")
    .attr("x", sx).attr("y", by)
    .attr("textLength", ex - sx)
    .attr("lengthAdjust", "spacingAndGlyphs")
    .text(text);
});
</script>
</body>
</html>
